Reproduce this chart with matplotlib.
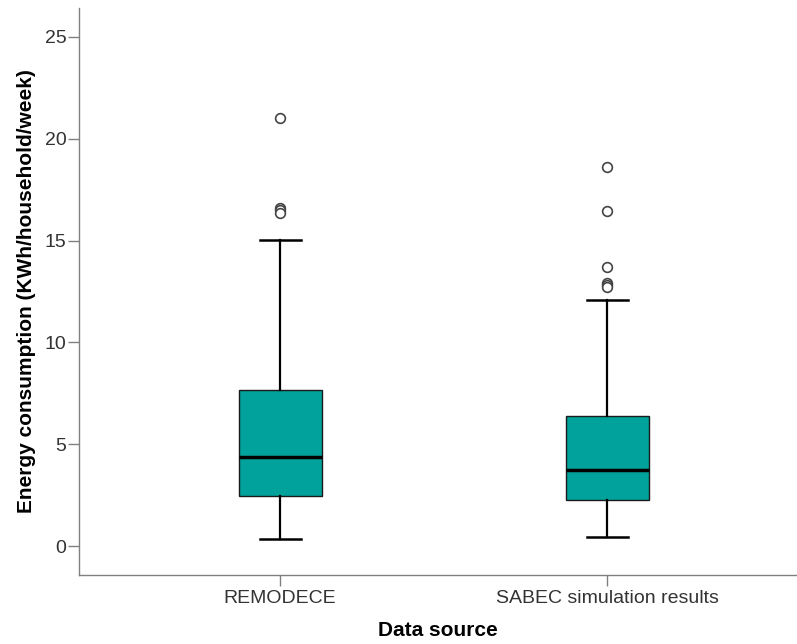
import matplotlib
matplotlib.use("Agg")
import matplotlib.pyplot as plt

plt.rcParams['font.family'] = ['Liberation Sans', 'DejaVu Sans']

categories = ["REMODECE", "SABEC simulation results"]
whisker_low = [0.34, 0.44]
q1 = [2.46, 2.26]
median = [4.39, 3.73]
q3 = [7.66, 6.39]
whisker_high = [15.03, 12.08]
outliers = [[21.02, 16.62, 16.48, 16.36],
            [18.63, 16.45, 13.72, 12.93, 12.80, 12.70]]
yticks = [0, 5, 10, 15, 20, 25]

stats = []
for i, c in enumerate(categories):
    stats.append(dict(label=c, whislo=whisker_low[i], q1=q1[i], med=median[i],
                      q3=q3[i], whishi=whisker_high[i], fliers=outliers[i]))

fig = plt.figure(figsize=(7.97, 6.44), dpi=100)
ax = fig.add_axes([0.0991, 0.107, 0.9009, 0.8806])

teal = '#00a29b'
ax.bxp(stats, positions=[1, 2], widths=0.254, patch_artist=True,
       boxprops=dict(facecolor=teal, edgecolor='#1a1a1a', linewidth=1.0),
       medianprops=dict(color='black', linewidth=2.5),
       whiskerprops=dict(color='black', linewidth=1.6),
       capprops=dict(color='black', linewidth=1.8),
       capwidths=0.125,
       flierprops=dict(marker='o', markerfacecolor='white', markeredgecolor='#444444',
                       markersize=7, markeredgewidth=1.2))

ax.set_xlim(0.385, 2.58)
ax.set_ylim(-1.42, 26.42)
ax.set_yticks(yticks)
ax.set_yticklabels([str(v) for v in yticks])

for s in ['top', 'right']:
    ax.spines[s].set_visible(False)
for s in ['left', 'bottom']:
    ax.spines[s].set_color('#808080')
    ax.spines[s].set_linewidth(1.0)

ax.tick_params(axis='both', colors='#808080', labelcolor='#333333', labelsize=14,
               length=8, width=1.0)
ax.tick_params(axis='x', pad=3)
ax.tick_params(axis='y', pad=1)

ax.set_xlabel("Data source", fontsize=15, fontweight='bold', color='black', labelpad=10)
ax.set_ylabel("Energy consumption (KWh/household/week)", fontsize=15,
              fontweight='bold', color='black', labelpad=6)

fig.savefig("out.png", dpi=100)
